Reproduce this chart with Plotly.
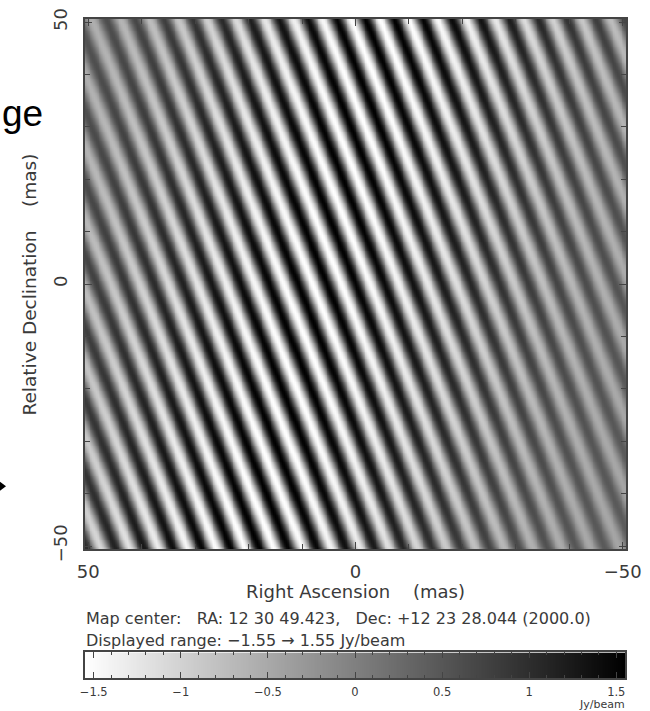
import numpy as np
import plotly.graph_objects as go

# ---- parameters ----
ra_range = [50.6, -50.6]          # mas, RA increases to the left
dec_range = [-50.6, 50.6]         # mas
axis_tickvals = [-50, 0, 50]
x_ticktext = ["\u221250", "0", "50"]
y_ticktext = ["\u221250", "0", "50"]
peak_flux = 1.55                  # Jy/beam (displayed range)
fringe_period = 5.39              # mas, measured along RA
fringe_tilt = 0.39                # RA shift per mas of Dec
fringe_phase = 0.0                # rad
envelope_center = 7.0             # mas
envelope_tilt = 0.24
envelope_width = 40.0             # mas
envelope_floor = 0.25
cbar_range = [-1.55, 1.55]
cbar_tickvals = [-1.5, -1, -0.5, 0, 0.5, 1, 1.5]
cbar_ticktext = ["\u22121.5", "\u22121", "\u22120.5", "0", "0.5", "1", "1.5"]
map_center_text = "Map center:   RA: 12 30 49.423,   Dec: +12 23 28.044 (2000.0)"
range_text = "Displayed range: \u22121.55 \u2192 1.55 Jy/beam"
x_title = "Right Ascension    (mas)"
y_title = "Relative Declination    (mas)"

# ---- build the fringe image ----
n = 300
xs = np.linspace(ra_range[1], ra_range[0], n)
ys = np.linspace(dec_range[0], dec_range[1], n)
X, Y = np.meshgrid(xs, ys)
phase = 2 * np.pi * (-X + fringe_tilt * Y) / fringe_period + fringe_phase
zeta = -X - envelope_tilt * Y + envelope_center
amp = peak_flux * (envelope_floor + (1 - envelope_floor) * np.exp(-(zeta / envelope_width) ** 2))
Z = np.round(amp * np.cos(phase), 3)

gray = [[0, "#ffffff"], [1, "#000000"]]
TXT = "#3a3a3a"
LINE = "#444444"
FONT = "DejaVu Sans"

fig = go.Figure()
fig.add_trace(go.Heatmap(x=xs, y=ys, z=Z, colorscale=gray, zmin=-peak_flux, zmax=peak_flux,
                         showscale=False, zsmooth="best", hoverinfo="skip", xaxis="x", yaxis="y"))

cb_x = np.linspace(cbar_range[0], cbar_range[1], 300)
fig.add_trace(go.Heatmap(x=cb_x, y=[0, 1], z=[cb_x, cb_x], colorscale=gray,
                         zmin=cbar_range[0], zmax=cbar_range[1], showscale=False,
                         zsmooth="best", hoverinfo="skip", xaxis="x2", yaxis="y2"))

L, R, T, B = 85, 24, 8, 33
W, H = 650, 711
ph = H - T - B
pw = W - L - R


def px(xp):
    return (xp - L) / pw


def py(yp):
    return (H - B - yp) / ph


axis_common = dict(showline=True, linecolor=LINE, linewidth=1.5, mirror="ticks",
                   ticks="inside", ticklen=7, tickcolor=LINE, tickwidth=1,
                   showgrid=False, zeroline=False, ticklabeloverflow="allow",
                   tickfont=dict(family=FONT, size=18, color=TXT))

fig.update_layout(
    width=W, height=H, margin=dict(l=L, r=R, t=T, b=B),
    paper_bgcolor="white", plot_bgcolor="white", showlegend=False,
    xaxis=dict(domain=[0, 1], range=ra_range, tickvals=axis_tickvals, ticktext=x_ticktext,
               minor=dict(dtick=10, tick0=0, ticks="inside", ticklen=5, tickcolor=LINE),
               ticklabelstandoff=5, anchor="y",
               title=dict(text=x_title, font=dict(family=FONT, size=18, color=TXT), standoff=4),
               **axis_common),
    yaxis=dict(domain=[py(547), 1], range=dec_range, tickvals=axis_tickvals, ticktext=y_ticktext,
               minor=dict(dtick=10, tick0=0, ticks="inside", ticklen=5, tickcolor=LINE),
               tickangle=-90, ticklabelstandoff=9, anchor="x",
               **axis_common),
    xaxis2=dict(domain=[0, px(625)], range=cbar_range, tickvals=cbar_tickvals, ticktext=cbar_ticktext,
                showline=True, linecolor=LINE, linewidth=1.5, mirror="ticks",
                ticks="inside", ticklen=6, tickcolor=LINE, showgrid=False, zeroline=False,
                minor=dict(dtick=0.1, tick0=0, ticks="inside", ticklen=3, tickcolor=LINE),
                tickfont=dict(family=FONT, size=11.5, color=TXT), ticklabelstandoff=2, anchor="y2"),
    yaxis2=dict(domain=[0, py(652)], range=[0, 1], showticklabels=False, ticks="",
                showline=True, linecolor=LINE, linewidth=1.5, mirror=True,
                showgrid=False, zeroline=False, anchor="x2"),
)

fig.add_annotation(text=y_title, xref="paper", yref="paper", x=px(30), y=py(278),
                   xanchor="center", yanchor="middle", textangle=-90, showarrow=False,
                   font=dict(family=FONT, size=18.5, color=TXT))
fig.add_annotation(text=map_center_text, xref="paper", yref="paper", x=px(84), y=py(617),
                   xanchor="left", yanchor="middle", showarrow=False,
                   font=dict(family=FONT, size=16, color=TXT))
fig.add_annotation(text=range_text, xref="paper", yref="paper", x=px(84), y=py(640),
                   xanchor="left", yanchor="middle", showarrow=False,
                   font=dict(family=FONT, size=16, color=TXT))
fig.add_annotation(text="Jy/beam", xref="paper", yref="paper", x=px(627), y=py(704.5),
                   xanchor="right", yanchor="middle", showarrow=False,
                   font=dict(family=FONT, size=11, color=TXT))
# cropped slide fragments at the left edge
fig.add_annotation(text="ge", xref="paper", yref="paper", x=px(0), y=py(104),
                   xanchor="left", yanchor="middle", showarrow=False,
                   font=dict(family="Liberation Sans", size=37, color="black"))
fig.add_shape(type="path", xref="paper", yref="paper",
              path=f"M {px(-2)} {py(477)} L {px(6)} {py(483)} L {px(-2)} {py(489)} Z",
              fillcolor="black", line=dict(color="black", width=0))

fig.write_html("out.html")
